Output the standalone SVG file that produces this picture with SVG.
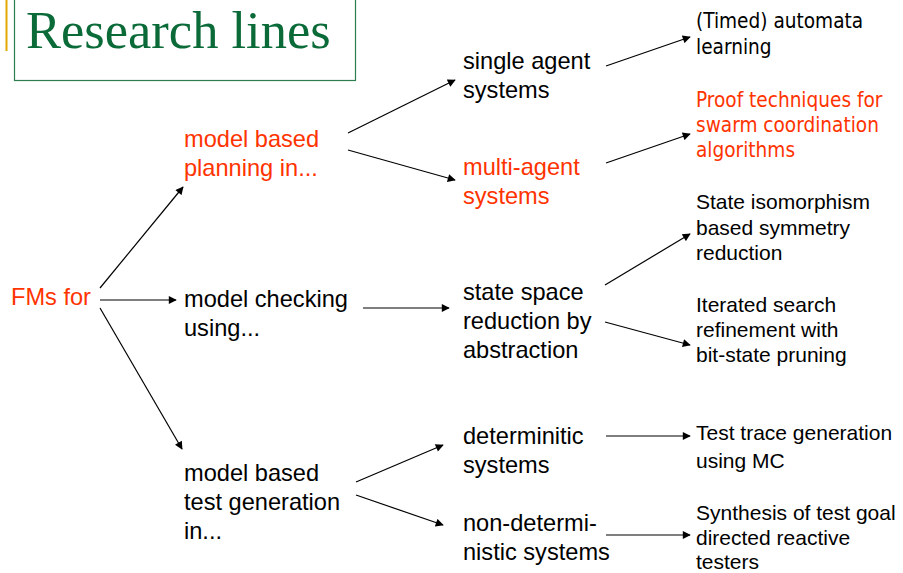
<svg xmlns="http://www.w3.org/2000/svg" width="903" height="573" viewBox="0 0 903 573">
<style>
.t{font-family:"Liberation Sans",Arial,sans-serif;font-size:23.6px;fill:#000}
.s{font-family:"Liberation Sans",Arial,sans-serif;font-size:21px;fill:#000}
.v{font-family:"DejaVu Sans Condensed","DejaVu Sans",sans-serif;font-size:20.6px;fill:#000}
.r{fill:#FF3300}
.title{font-family:"Liberation Serif","Times New Roman",serif;font-size:52.5px;fill:#0B6B38}
.c line{stroke:#000;stroke-width:1.2;marker-end:url(#ah)}
</style>
<defs>
<marker id="ah" viewBox="0 0 10 10" refX="9" refY="5" markerWidth="9" markerHeight="8" markerUnits="userSpaceOnUse" orient="auto">
<path d="M0,0 L10,5 L0,10 z" fill="#000"/>
</marker>
</defs>
<rect width="903" height="573" fill="#fff"/>
<g id="titlebox">
<line x1="6.5" y1="0" x2="6.5" y2="51" stroke="#E0A800" stroke-width="2"/>
<rect x="14.5" y="-5" width="341" height="85.5" fill="none" stroke="#2E7D4F" stroke-width="1.2"/>
<text class="title" x="26" y="48">Research lines</text>
</g>
<g id="fms"><text class="t r" x="11" y="305">FMs for</text></g>
<g id="planning"><text class="t r" x="184" y="147">model based</text><text class="t r" x="184" y="176">planning in...</text></g>
<g id="checking"><text class="t" x="184" y="307">model checking</text><text class="t" x="184" y="336">using...</text></g>
<g id="testgen"><text class="t" x="184" y="481">model based</text><text class="t" x="184" y="510">test generation</text><text class="t" x="184" y="539">in...</text></g>
<g id="single"><text class="t" x="463" y="69">single agent</text><text class="t" x="463" y="98">systems</text></g>
<g id="multi"><text class="t r" x="463" y="175">multi-agent</text><text class="t r" x="463" y="204">systems</text></g>
<g id="statespace"><text class="t" x="463" y="300">state space</text><text class="t" x="463" y="329">reduction by</text><text class="t" x="463" y="358">abstraction</text></g>
<g id="determ"><text class="t" x="463" y="444">determinitic</text><text class="t" x="463" y="473">systems</text></g>
<g id="nondeterm"><text class="t" x="463" y="531">non-determi-</text><text class="t" x="463" y="560">nistic systems</text></g>
<g id="timed"><text class="v" x="696" y="28">(Timed) automata</text><text class="v" x="696" y="54">learning</text></g>
<g id="proof"><text class="v r" x="696" y="107">Proof techniques for</text><text class="v r" x="696" y="132">swarm coordination</text><text class="v r" x="696" y="157">algorithms</text></g>
<g id="iso"><text class="s" x="696" y="209">State isomorphism</text><text class="s" x="696" y="235">based symmetry</text><text class="s" x="696" y="260">reduction</text></g>
<g id="iter"><text class="s" x="696" y="312">Iterated search</text><text class="s" x="696" y="337">refinement with</text><text class="s" x="696" y="362">bit-state pruning</text></g>
<g id="trace"><text class="s" x="696" y="440">Test trace generation</text><text class="s" x="696" y="468">using MC</text></g>
<g id="synth"><text class="s" x="696" y="520">Synthesis of test goal</text><text class="s" x="696" y="545">directed reactive</text><text class="s" x="696" y="569">testers</text></g>
<g id="connectors" class="c">
<line x1="100" y1="288" x2="183" y2="187"/>
<line x1="100" y1="300" x2="176" y2="300"/>
<line x1="100" y1="308" x2="182" y2="449"/>
<line x1="348" y1="133" x2="455" y2="80"/>
<line x1="348" y1="150" x2="455" y2="180"/>
<line x1="363" y1="308" x2="449" y2="308"/>
<line x1="606" y1="66" x2="690" y2="37"/>
<line x1="606" y1="163" x2="690" y2="134"/>
<line x1="605" y1="285" x2="690" y2="234"/>
<line x1="605" y1="322" x2="690" y2="345"/>
<line x1="356" y1="482" x2="443" y2="445"/>
<line x1="356" y1="495" x2="443" y2="525"/>
<line x1="606" y1="436" x2="690" y2="436"/>
<line x1="606" y1="535" x2="690" y2="535"/>
</g>
</svg>
